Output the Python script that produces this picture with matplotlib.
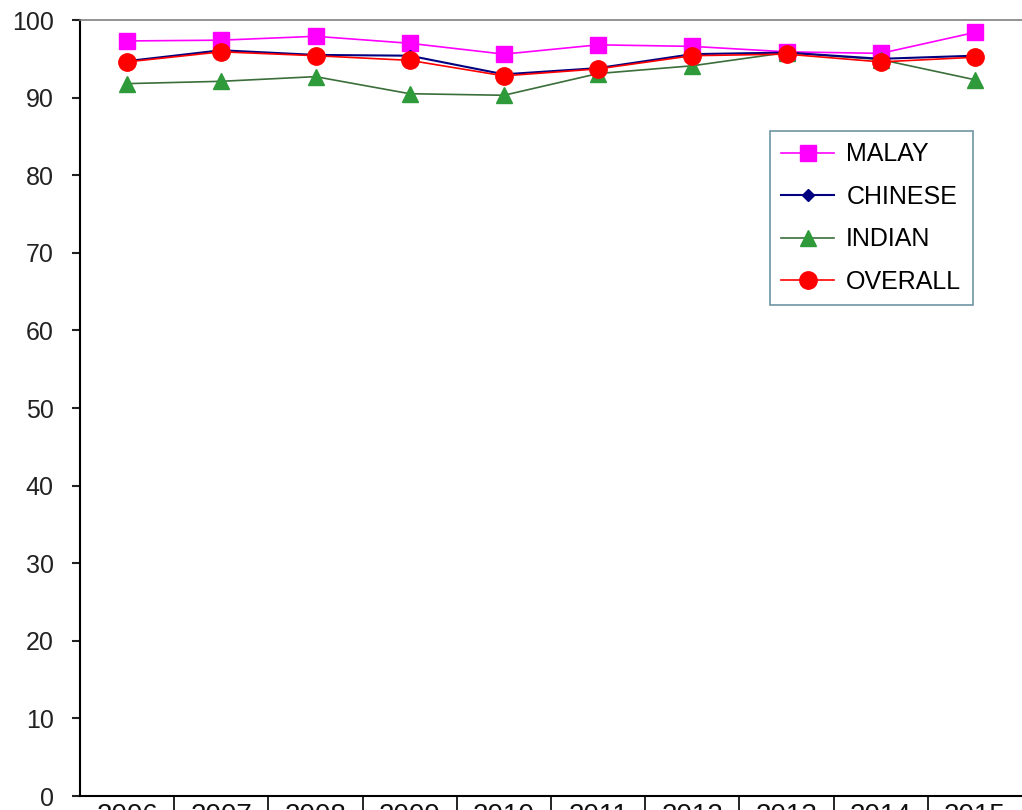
import matplotlib
matplotlib.use("Agg")
import matplotlib.pyplot as plt
import numpy as np

years = ["2006", "2007", "2008", "2009", "2010", "2011", "2012", "2013", "2014", "2015"]
malay = [97.3, 97.4, 97.9, 97.0, 95.6, 96.8, 96.6, 95.9, 95.7, 98.4]
chinese = [94.7, 96.1, 95.5, 95.4, 93.0, 93.8, 95.6, 95.8, 95.0, 95.4]
indian = [91.8, 92.1, 92.7, 90.5, 90.3, 93.1, 94.1, 95.8, 94.9, 92.3]
overall = [94.6, 95.9, 95.4, 94.8, 92.8, 93.7, 95.4, 95.6, 94.6, 95.2]
yticks = [0, 10, 20, 30, 40, 50, 60, 70, 80, 90, 100]

plt.rcParams['font.family'] = ['Liberation Sans', 'DejaVu Sans']

fig = plt.figure(figsize=(10.22, 8.10), dpi=100)
ax = fig.add_axes([80/1022, 14/810, 942/1022, 776/810])

x = np.arange(len(years))
ax.plot(x, malay, color='#FF00FF', lw=1.2, marker='s', ms=11.5, mfc='#FF00FF', mec='#FF00FF', label='MALAY', zorder=3)
ax.plot(x, chinese, color='#000080', lw=1.5, marker='D', ms=6, mfc='#000080', mec='#000080', label='CHINESE', zorder=4)
ax.plot(x, indian, color='#3a6e3a', lw=1.2, marker='^', ms=12, mfc='#2e9a3a', mec='#2e9a3a', label='INDIAN', zorder=3)
ax.plot(x, overall, color='#FF0000', lw=1.2, marker='o', ms=12.5, mfc='#FF0000', mec='#FF0000', label='OVERALL', zorder=5)

ax.set_xlim(-0.5, len(years) - 0.5)
ax.set_ylim(0, 100)
ax.set_yticks(yticks)
ax.set_yticklabels([str(v) for v in yticks], fontsize=18)
ax.tick_params(axis='y', direction='out', length=6, width=1.5, pad=13, colors='#222222')

ax.set_xticks(x)
ax.set_xticklabels(years, fontsize=20)
ax.tick_params(axis='x', which='major', length=0, pad=5, colors='#111111')
ax.set_xticks(np.arange(0.5, len(years) - 0.5, 1.0), minor=True)
ax.tick_params(axis='x', which='minor', direction='out', length=12, width=1.2, colors='black')

ax.spines['left'].set_linewidth(1.5)
ax.spines['bottom'].set_linewidth(1.5)
ax.spines['top'].set_color('#808080')
ax.spines['top'].set_linewidth(1.2)
ax.spines['right'].set_visible(False)

leg = ax.legend(loc='upper left', bbox_to_anchor=(690/942, (796-131)/776), fontsize=18,
                frameon=True, fancybox=False, edgecolor='#4a7a8c', handlelength=2.1,
                borderpad=0.45, labelspacing=0.74, handletextpad=0.5, borderaxespad=0)
leg.get_frame().set_linewidth(1.2)

fig.savefig("out.png", dpi=100)
